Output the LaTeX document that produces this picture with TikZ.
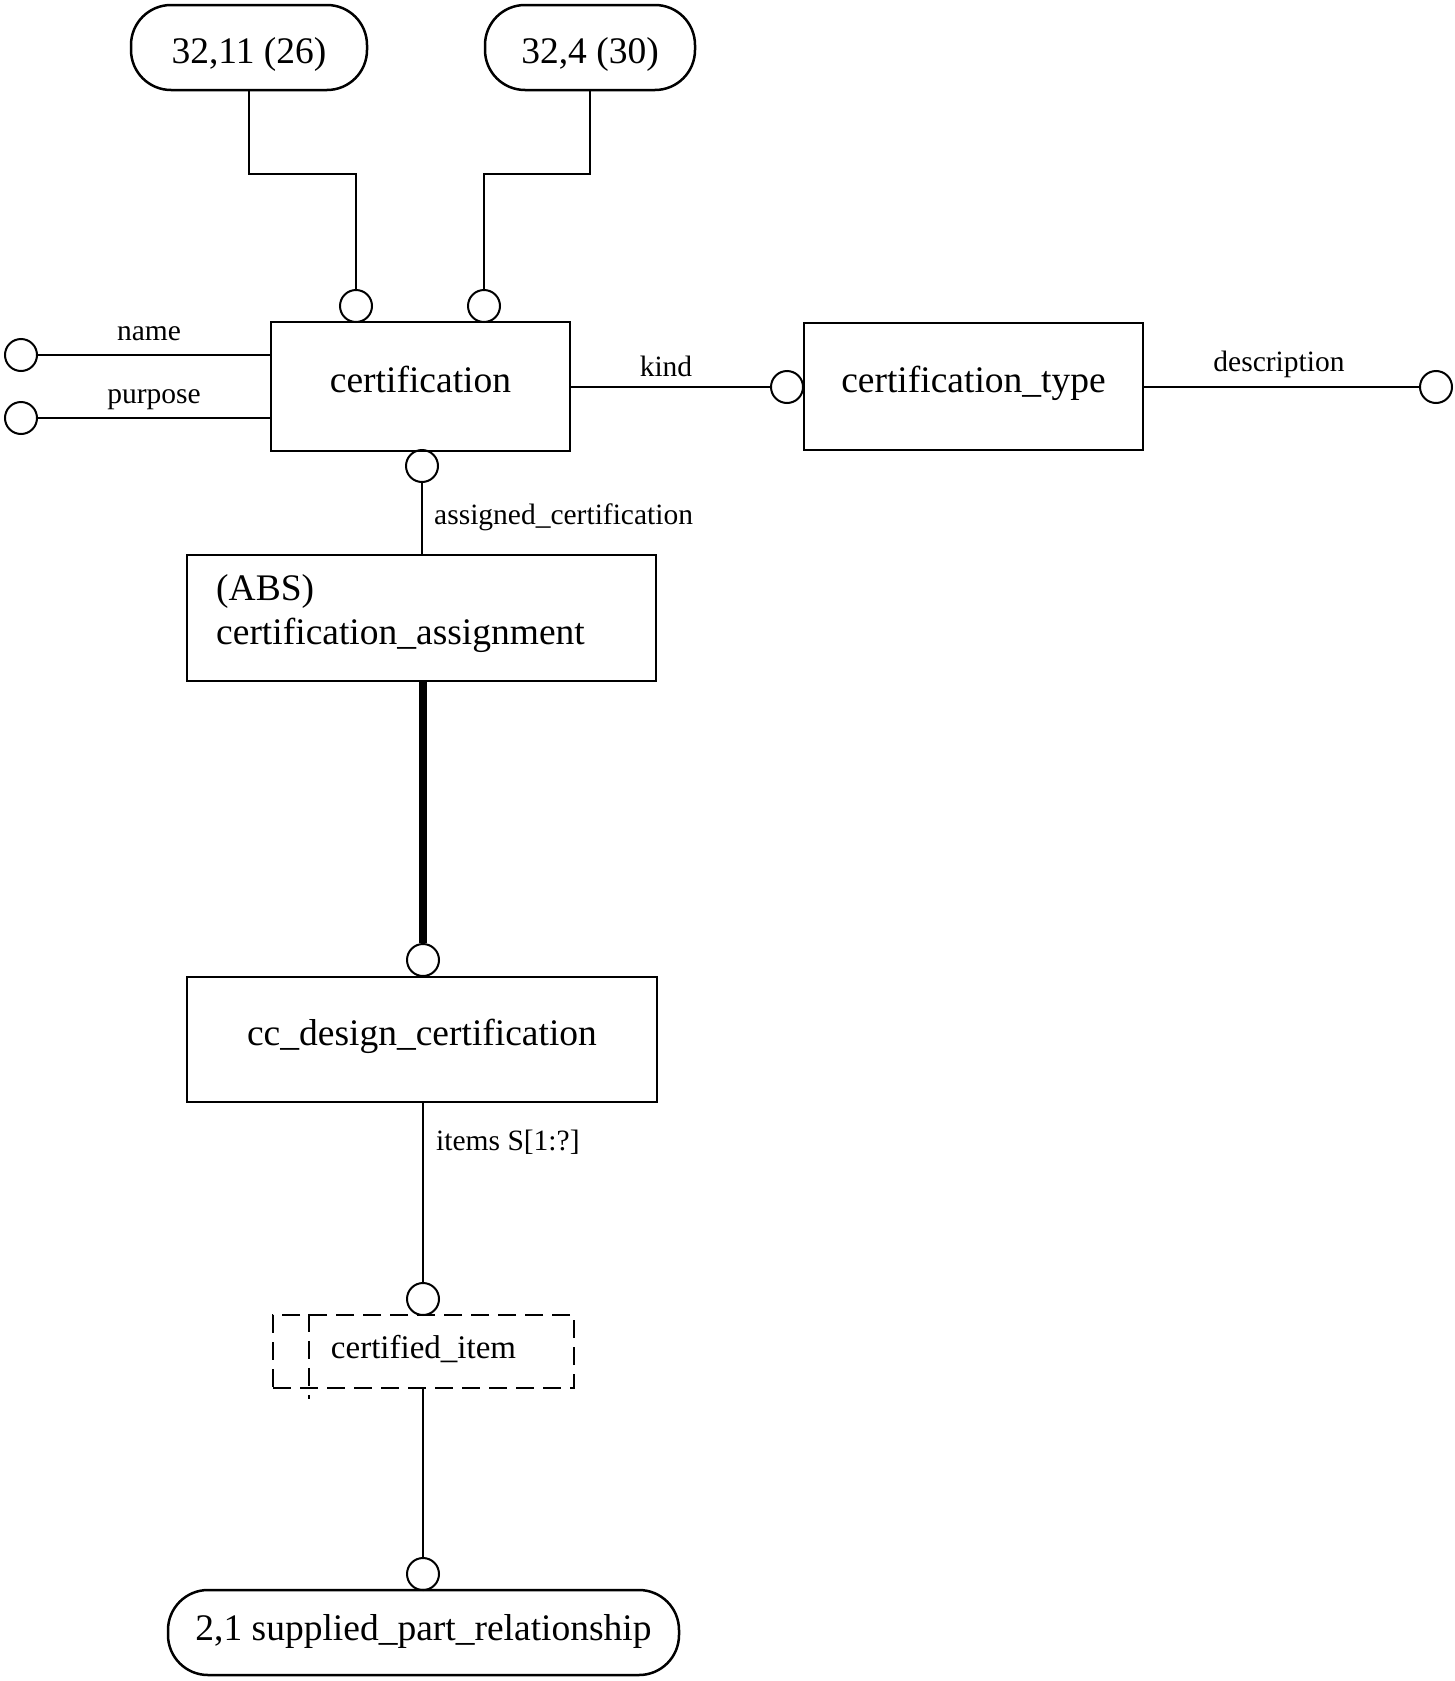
\documentclass[tikz,border=0pt]{standalone}
\usepackage{fontspec}
\setmainfont{Liberation Serif}
\begin{document}
\begin{tikzpicture}[x=1pt,y=-1pt,
  big/.style={font=\fontsize{37.5}{45}\selectfont},
  small/.style={font=\fontsize{29.5}{35}\selectfont},
  ent/.style={draw, line width=2.5pt, inner sep=0pt, big, text height=25pt, text depth=14pt},
  pill/.style={draw, line width=2.5pt, rounded corners=40pt, inner sep=0pt, big, minimum height=85pt},
  ring/.style={circle, draw, line width=2pt, minimum size=32pt, inner sep=0pt},
  lbl/.style={inner sep=0pt, small},
  conn/.style={line width=2pt},
  dsh/.style={dash pattern=on 18pt off 9pt, line width=2.5pt},
]
\useasboundingbox (0,0) rectangle (1455,1681);

% entities
\node[pill, minimum width=236pt, text height=31pt, text depth=0pt] (p1) at (249,47.5) {32,11 (26)};
\node[pill, minimum width=210pt, text height=31pt, text depth=0pt] (p2) at (590,47.5) {32,4 (30)};
\node[ent, minimum width=299pt, minimum height=129pt] (cert) at (420.5,386.5) {certification};
\node[ent, minimum width=339pt, minimum height=127pt] (ctype) at (973.5,386.5) {certification\_type};
\node[draw, line width=2.5pt, minimum width=469pt, minimum height=126pt, inner sep=0pt] (abs) at (421.5,618) {};
\node[anchor=base west, inner sep=0pt, big] (absA) at (216,600) {(ABS)};
\node[anchor=base west, inner sep=0pt, big] (absB) at (216,644) {certification\_assignment};
\node[ent, minimum width=470pt, minimum height=125pt] (cc) at (422,1039.5) {cc\_design\_certification};
\node[draw, dsh, minimum width=301pt, minimum height=73pt, inner sep=0pt,
      font=\fontsize{33}{40}\selectfont, text height=22pt, text depth=9pt] (ci) at (423.5,1351.5) {certified\_item};
\draw[dsh] (ci.north -| 309,0) -- (309,1399);
\node[pill, minimum width=511pt, text height=22pt, text depth=7pt] (sp) at (423.5,1632.5) {2,1 supplied\_part\_relationship};

% rings
\node[ring] (c1) at (356,306) {};
\node[ring] (c2) at (484,306) {};
\node[ring] (cn) at (21,355) {};
\node[ring] (cp) at (21,418) {};
\node[ring] (ck) at (787,387) {};
\node[ring] (cd) at (1436,387) {};
\node[ring] (cb) at (422,466) {};
\node[ring] (ca) at (423,960) {};
\node[ring] (cit) at (423,1299) {};
\node[ring] (cs) at (423,1574) {};

% connectors
\draw[conn] (p1.south) -- (p1.south |- 0,174) -| (c1.north);
\draw[conn] (p2.south) -- (p2.south |- 0,174) -| (c2.north);
\draw[conn] (cn.east) -- (cn.east -| cert.west);
\draw[conn] (cp.east) -- (cp.east -| cert.west);
\draw[conn] (cert.east |- ck) -- (ck.west);
\draw[conn] (ctype.east |- cd) -- (cd.west);
\draw[conn] (cb.south) -- (cb.south |- abs.north);
\draw[line width=8pt] (ca.north |- abs.south) -- (ca.north);
\draw[conn] (cit.north |- cc.south) -- (cit.north);
\draw[conn] (cs.north |- ci.south) -- (cs.north);

% labels
\node[lbl, anchor=base] (lname) at (149,340) {name};
\node[lbl, anchor=base] (lpurp) at (154,403) {purpose};
\node[lbl, anchor=base] (lkind) at (666,376) {kind};
\node[lbl, anchor=base] (ldesc) at (1279,371) {description};
\node[lbl, anchor=base west] (lassg) at (434,524) {assigned\_certification};
\node[lbl, anchor=base west] (litems) at (436,1150) {items S[1:?]};
\end{tikzpicture}
\end{document}
